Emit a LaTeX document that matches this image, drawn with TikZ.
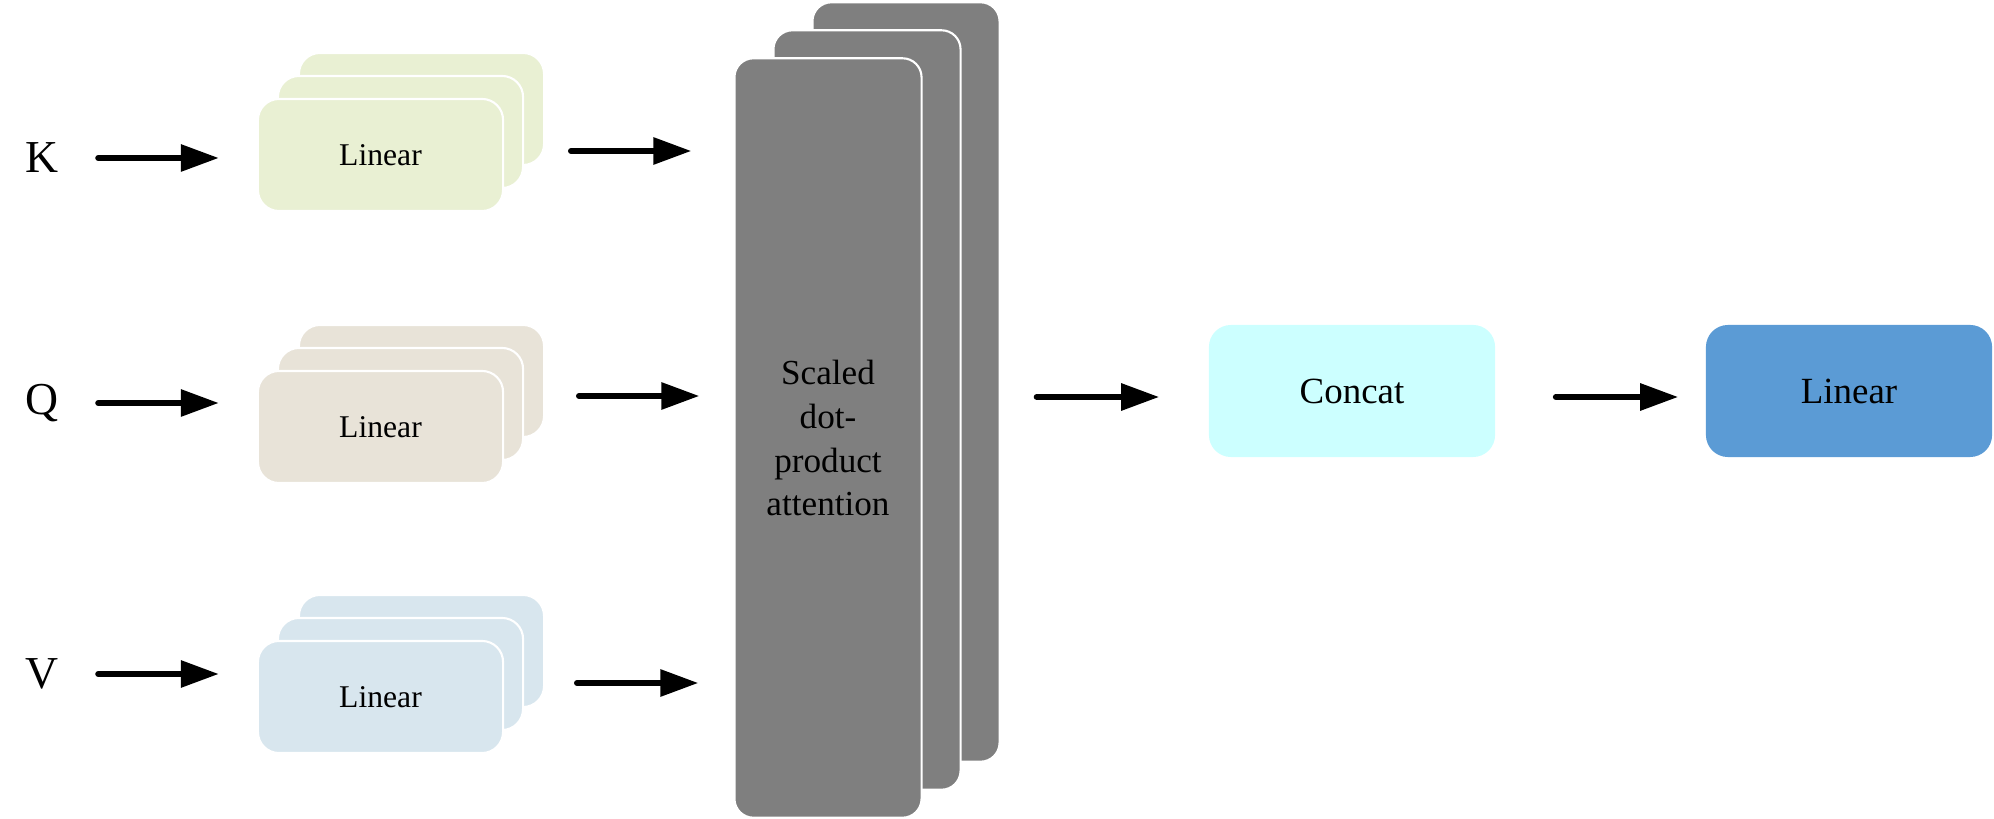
\documentclass[tikz,border=0pt]{standalone}
\usepackage{fontspec}
\setmainfont{Liberation Serif}
\usepackage{xcolor}
\usetikzlibrary{
	arrows.meta,
	calc
}
\definecolor{KGreen}{RGB}{233,240,211}
\definecolor{QBeige}{RGB}{232,227,216}
\definecolor{VBlue}{RGB}{216,230,238}
\definecolor{AttGray}{RGB}{127,127,127}
\definecolor{CatCyan}{RGB}{204,255,255}
\definecolor{OutBlue}{RGB}{91,155,213}
\tikzset{
	linbox/.style={draw=white, line width=0.6pt, rounded corners=0.21cm, minimum width=2.45cm, minimum height=1.12cm, font=\fontsize{9}{11}\selectfont},
	attbox/.style={draw=white, line width=0.6pt, fill=AttGray, rounded corners=0.19cm, minimum width=1.87cm, minimum height=7.59cm},
	bigbox/.style={rounded corners=0.22cm, minimum width=2.86cm, minimum height=1.32cm, font=\fontsize{10.5}{12.5}\selectfont},
	inlabel/.style={inner sep=0pt, font=\fontsize{13}{15}\selectfont},
	arr/.style={-{Triangle[length=3.8mm, width=2.6mm]}, line width=1.7pt, line cap=round}
}

\begin{document}
\begin{tikzpicture}[x=0.01cm, y=-0.01cm]
		\useasboundingbox (0,0) rectangle (1994,819);
		
		% inputs
		\node[inlabel] (K) at (42,158) {K};
		\node[inlabel] (Q) at (42,403) {Q};
		\node[inlabel] (V) at (42,674) {V};
		
		% linear stacks, back to front
		\node[linbox, fill=KGreen] (k3) at (421.5,109) {};
		\node[linbox, fill=KGreen] (k2) at (400.5,132) {};
		\node[linbox, fill=KGreen] (k1) at (380.5,155) {Linear};
		\node[linbox, fill=QBeige] (q3) at (421.5,381) {};
		\node[linbox, fill=QBeige] (q2) at (400.5,404) {};
		\node[linbox, fill=QBeige] (q1) at (380.5,427) {Linear};
		\node[linbox, fill=VBlue] (v3) at (421.5,651) {};
		\node[linbox, fill=VBlue] (v2) at (400.5,674) {};
		\node[linbox, fill=VBlue] (v1) at (380.5,697) {Linear};
		
		% attention heads
		\node[attbox] (a3) at (906,382) {};
		\node[attbox] (a2) at (867,410) {};
		\node[attbox, align=center, font=\fontsize{10}{12.5}\selectfont] (a1) at (828,438) {Scaled\\dot-\\product\\attention};
		
		\node[bigbox, fill=CatCyan] (cat) at (1352,391) {Concat};
		\node[bigbox, fill=OutBlue] (out) at (1849,391) {Linear};
		
		\draw[arr, shorten <=0.39cm, shorten >=0.38cm] (K) -- (K -| k1.west);
		\draw[arr, shorten <=0.39cm, shorten >=0.38cm] (Q) -- (Q -| q1.west);
		\draw[arr, shorten <=0.39cm, shorten >=0.38cm] (V) -- (V -| v1.west);
		
		\coordinate (kOut) at (571,151);
		\coordinate (qOut) at (579,396);
		\coordinate (vOut) at (577,683);
		\draw[arr, shorten >=0.42cm] (kOut) -- (kOut -| a1.west);
		\draw[arr, shorten >=0.34cm] (qOut) -- (qOut -| a1.west);
		\draw[arr, shorten >=0.35cm] (vOut) -- (vOut -| a1.west);
		
		\coordinate (catIn) at ([yshift=-0.06cm]cat.west);
		\coordinate (outIn) at ([yshift=-0.06cm]out.west);
		\draw[arr, shorten <=1.14cm, shorten >=0.49cm] (catIn -| a1.east) -- (catIn);
		\draw[arr, shorten <=0.60cm, shorten >=0.27cm] (outIn -| cat.east) -- (outIn);
	\end{tikzpicture}
\end{document}
